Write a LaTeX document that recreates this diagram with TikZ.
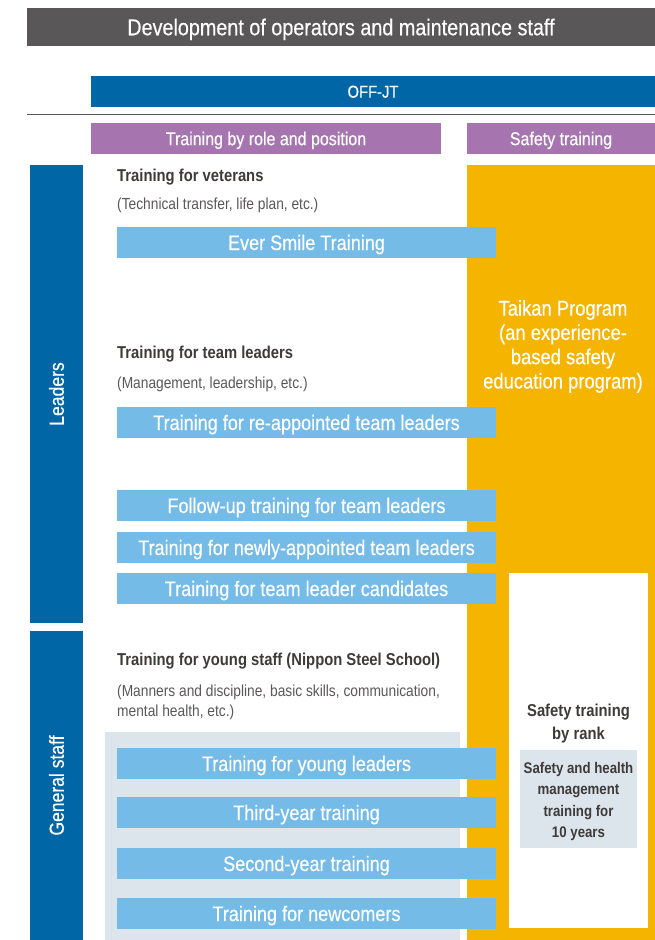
\documentclass[tikz,border=0pt]{standalone}
\usepackage{fontspec}
\setmainfont{Liberation Sans}[FakeStretch=0.86]
\newfontfamily\medfont{Liberation Sans}[FakeStretch=0.86, FakeBold=0.4]
\definecolor{dkgray}{HTML}{595757}
\definecolor{navy}{HTML}{0066A6}
\definecolor{purp}{HTML}{A675AF}
\definecolor{orng}{HTML}{F5B400}
\definecolor{lblue}{HTML}{74BBE7}
\definecolor{pale}{HTML}{DCE5EC}
\definecolor{txt}{HTML}{3E3A39}
\definecolor{subtxt}{HTML}{5A5757}
\tikzset{
  box/.style={rectangle, inner sep=0pt, outer sep=0pt},
  bar/.style={box, fill=lblue, minimum width=379pt, minimum height=31pt, text=white, text height=15pt, text depth=0pt, font=\medfont\fontsize{21}{23}\selectfont},
  head/.style={box, fill=purp, minimum height=31pt, text=white, text height=13.3pt, text depth=0pt, font=\medfont\fontsize{18.6}{20}\selectfont},
  side/.style={box, fill=navy, minimum width=53pt},
  sidelbl/.style={rotate=90, text=white, text height=14.6pt, text depth=0pt, font=\medfont\fontsize{20.4}{22}\selectfont},
  title/.style={anchor=west, inner sep=0pt, text=txt, font=\fontsize{17.2}{20}\selectfont\bfseries},
  sub/.style={anchor=west, inner sep=0pt, text=subtxt, align=left, font=\fontsize{16}{20}\selectfont},
}
\begin{document}
\begin{tikzpicture}[x=1pt,y=-1pt]
\useasboundingbox (0,0) rectangle (655,940);
% header
\node[box, fill=dkgray, minimum width=628pt, minimum height=38pt, text=white, text height=16.5pt, text depth=0pt, font=\medfont\fontsize{23}{25}\selectfont] (banner) at (341,27) {Development of operators and maintenance staff};
\node[box, fill=navy, minimum width=564pt, minimum height=31pt, text=white, text height=12.3pt, text depth=0pt, font=\medfont\fontsize{17.2}{19}\selectfont] (offjt) at (373,91.5) {OFF-JT};
\coordinate (lineL) at (27,114.5);
\coordinate (lineR) at (655,114.5);
\draw[dkgray, line width=1pt] (lineL) -- (lineR);
\node[head, minimum width=350pt] (role) at (266,138.5) {Training by role and position};
\node[head, minimum width=188pt] (safety) at (561,138.5) {Safety training};
% orange column
\node[box, fill=orng, minimum width=188pt, minimum height=775pt] (orange) at (561,552.5) {};
\node[box, fill=white, minimum width=139pt, minimum height=355pt] (rankbox) at (578.5,750.5) {};
\node[box, fill=pale, minimum width=117pt, minimum height=98pt] (shbox) at (578.5,799) {};
\node[align=center, text=white, font=\medfont\fontsize{21.4}{24.3}\selectfont] (taikan) at (563,346.5) {Taikan Program\\(an experience-\\based safety\\education program)};
\node[align=center, text=txt, font=\fontsize{17.2}{23}\selectfont\bfseries] (rank) at (578.5,724) {Safety training\\by rank};
\node[align=center, text=txt, font=\fontsize{15.4}{21.5}\selectfont\bfseries] (shtext) at (578.5,801.5) {Safety and health\\management\\training for\\10 years};
% side bars
\node[side, minimum height=458pt] (leaders) at (56.5,394) {};
\node[sidelbl] (leaderslbl) at (leaders.center) {Leaders};
\node[side, minimum height=309pt] (general) at (56.5,785.5) {};
\node[sidelbl] (generallbl) at (general.center) {General staff};
% pale background for young staff
\node[box, fill=pale, minimum width=355pt, minimum height=208pt] (youngbg) at (282.5,836) {};
% texts
\node[title] (vet) at (117,177) {Training for veterans};
\node[sub] (vetsub) at (117,205) {(Technical transfer, life plan, etc.)};
\node[title] (tl) at (117,354) {Training for team leaders};
\node[sub] (tlsub) at (117,384) {(Management, leadership, etc.)};
\node[title] (ys) at (117,661) {Training for young staff (Nippon Steel School)};
\node[sub] (yssub) at (117,702) {(Manners and discipline, basic skills, communication,\\mental health, etc.)};
% bars
\node[bar] (b1) at (306.5,242.5) {Ever Smile Training};
\node[bar] (b2) at (306.5,422.5) {Training for re-appointed team leaders};
\node[bar] (b3) at (306.5,505.5) {Follow-up training for team leaders};
\node[bar] (b4) at (306.5,547.5) {Training for newly-appointed team leaders};
\node[bar] (b5) at (306.5,588.5) {Training for team leader candidates};
\node[bar] (b6) at (306.5,763.5) {Training for young leaders};
\node[bar] (b7) at (306.5,812.5) {Third-year training};
\node[bar] (b8) at (306.5,863.5) {Second-year training};
\node[bar] (b9) at (306.5,913.5) {Training for newcomers};
\end{tikzpicture}
\end{document}
